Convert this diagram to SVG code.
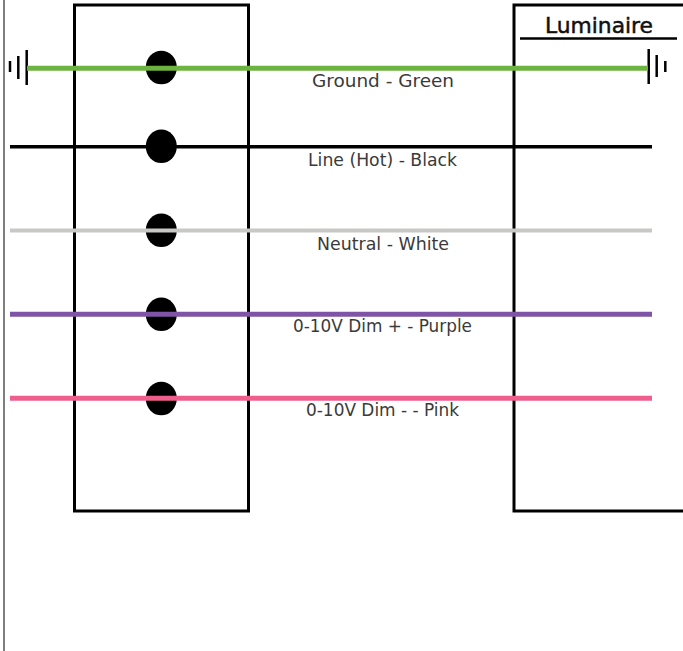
<svg xmlns="http://www.w3.org/2000/svg" width="683" height="651" viewBox="0 0 683 651">
<style>
.box{fill:#fff;stroke:#000;stroke-width:3}
.dot{fill:#000}
.wire{fill:none;stroke-linecap:butt}
.gnd{stroke:#000;stroke-width:2.5;fill:none}
.lbl{font-family:"DejaVu Sans","Liberation Sans",sans-serif;font-size:17.5px;fill:#3a3a3a;text-anchor:middle}
.title{font-family:"DejaVu Sans","Liberation Sans",sans-serif;font-size:22px;fill:#111;stroke:#111;stroke-width:0.5;text-anchor:middle}
</style>
<rect width="683" height="651" fill="#fff"/>
<line x1="4" y1="0" x2="4" y2="651" stroke="#555" stroke-width="1.5"/>
<g id="terminal-block">
<rect class="box" x="74.5" y="5" width="174" height="506"/>
<ellipse class="dot" cx="161.3" cy="67.5" rx="15.5" ry="16.8"/>
<ellipse class="dot" cx="161.3" cy="146.3" rx="15.5" ry="16.8"/>
<ellipse class="dot" cx="161.3" cy="230.3" rx="15.5" ry="16.8"/>
<ellipse class="dot" cx="161.3" cy="314.3" rx="15.5" ry="16.8"/>
<ellipse class="dot" cx="161.3" cy="398.5" rx="15.5" ry="16.8"/>
</g>
<g id="luminaire">
<rect class="box" x="514" y="5" width="190" height="506"/>
<text class="title" x="599" y="33" textLength="108" lengthAdjust="spacingAndGlyphs">Luminaire</text>
<line x1="520" y1="38.5" x2="677" y2="38.5" stroke="#000" stroke-width="2.5"/>
</g>
<g id="ground-left">
<line class="gnd" x1="10" y1="61" x2="10" y2="72"/>
<line class="gnd" x1="18.3" y1="56" x2="18.3" y2="79"/>
<line class="gnd" x1="26.7" y1="50" x2="26.7" y2="85"/>
</g>
<g id="ground-right">
<line class="gnd" x1="648.7" y1="49" x2="648.7" y2="84"/>
<line class="gnd" x1="656.7" y1="55" x2="656.7" y2="77"/>
<line class="gnd" x1="665.3" y1="61" x2="665.3" y2="72"/>
</g>
<g id="wires">
<line class="wire" x1="27" y1="68.3" x2="648" y2="68.3" stroke="#6db33f" stroke-width="5"/>
<line class="wire" x1="10" y1="146.7" x2="652" y2="146.7" stroke="#000" stroke-width="3.5"/>
<line class="wire" x1="10" y1="230.5" x2="652" y2="230.5" stroke="#c8c8c6" stroke-width="4"/>
<line class="wire" x1="10" y1="314.2" x2="652" y2="314.2" stroke="#7f53a6" stroke-width="5"/>
<line class="wire" x1="10" y1="398.2" x2="652" y2="398.2" stroke="#ef5f8e" stroke-width="5"/>
</g>
<g id="labels">
<text class="lbl" x="383" y="87" textLength="142" lengthAdjust="spacingAndGlyphs">Ground - Green</text>
<text class="lbl" x="382.5" y="166" textLength="149" lengthAdjust="spacingAndGlyphs">Line (Hot) - Black</text>
<text class="lbl" x="383" y="249.5" textLength="132" lengthAdjust="spacingAndGlyphs">Neutral - White</text>
<text class="lbl" x="382.5" y="332" textLength="179" lengthAdjust="spacingAndGlyphs">0-10V Dim + - Purple</text>
<text class="lbl" x="382.5" y="416" textLength="153" lengthAdjust="spacingAndGlyphs">0-10V Dim - - Pink</text>
</g>
</svg>
